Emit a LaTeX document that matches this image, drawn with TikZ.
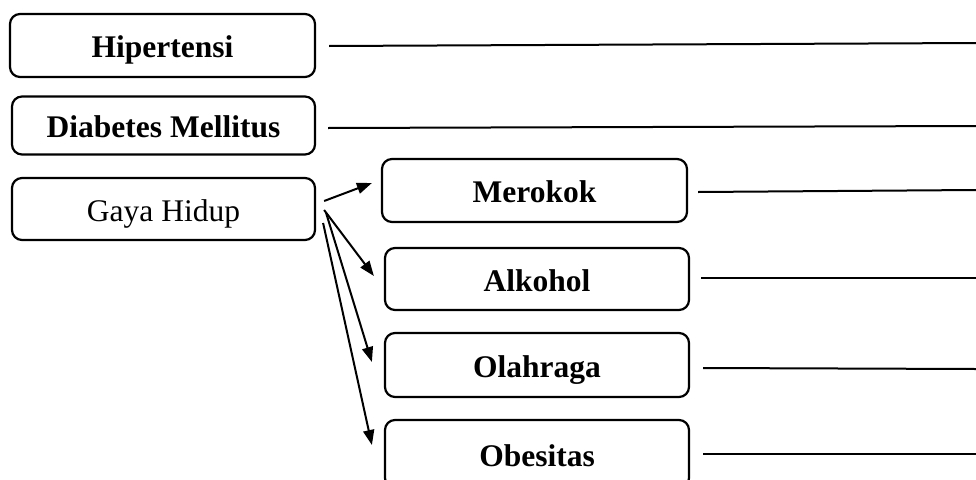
\documentclass[tikz,border=0pt]{standalone}
\usepackage{fontspec}
\setmainfont{Liberation Serif}
\usetikzlibrary{arrows.meta}
\begin{document}
\begin{tikzpicture}[x=1pt,y=-1pt,
  box/.style={draw,line width=2.2pt,rounded corners=10pt,rectangle,inner sep=0pt,
    text height=24pt,text depth=0pt,font=\fontsize{31.5}{36}\selectfont},
  link/.style={line width=2pt},
  arr/.style={line width=2pt,-{Triangle[length=15pt,width=11pt]}}]
\useasboundingbox (0,0) rectangle (976,479);
\clip (0,0) rectangle (976,479);
\node[box,minimum width=305pt,minimum height=63pt] (h) at (162.5,45.5) {\bfseries Hipertensi};
\node[box,minimum width=303pt,minimum height=58pt] (d) at (163.5,125.5) {\bfseries Diabetes Mellitus};
\node[box,minimum width=303pt,minimum height=62pt] (g) at (163.5,209) {Gaya Hidup};
\node[box,minimum width=305pt,minimum height=63pt] (m) at (534.5,190.5) {\bfseries Merokok};
\node[box,minimum width=304pt,minimum height=62pt] (a) at (537,279) {\bfseries Alkohol};
\node[box,minimum width=304pt,minimum height=64pt] (o) at (537,365) {\bfseries Olahraga};
\node[box,minimum width=304pt,minimum height=68pt] (b) at (537,454) {\bfseries Obesitas};
\coordinate (hr) at (976,43);
\coordinate (dr) at (976,126);
\coordinate (mr) at (976,190);
\coordinate (ar) at (976,278);
\coordinate (or) at (976,369);
\coordinate (br) at (976,454);
\draw[link] ([xshift=13pt,yshift=-0.5pt]h.east) -- (hr);
\draw[link] ([xshift=12pt,yshift=-2.5pt]d.east) -- (dr);
\draw[link] ([xshift=10pt,yshift=-1.5pt]m.east) -- (mr);
\draw[link] ([xshift=11pt,yshift=1pt]a.east) -- (ar);
\draw[link] ([xshift=13pt,yshift=-3pt]o.east) -- (or);
\draw[link] ([xshift=13pt,yshift=0pt]b.east) -- (br);
\draw[arr] ([xshift=8pt,yshift=8pt]g.east) -- ([xshift=-9pt,yshift=7.5pt]m.west);
\draw[arr] ([xshift=8pt,yshift=-1pt]g.east) -- ([xshift=-10pt,yshift=3pt]a.west);
\draw[arr] ([xshift=10pt,yshift=-4pt]g.east) -- ([xshift=-12pt,yshift=3pt]o.west);
\draw[arr] ([xshift=7pt,yshift=-14pt]g.east) -- ([xshift=-12pt,yshift=9pt]b.west);
\end{tikzpicture}
\end{document}
